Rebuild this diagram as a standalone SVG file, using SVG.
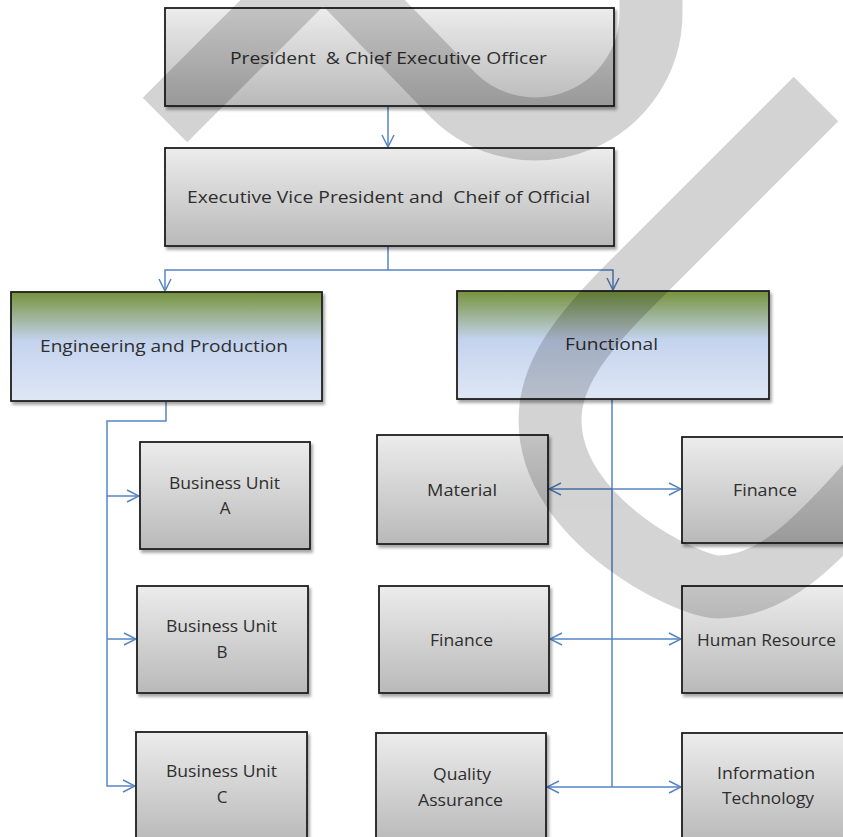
<svg xmlns="http://www.w3.org/2000/svg" width="843" height="837" viewBox="0 0 843 837">
  <defs>
    <linearGradient id="grey" x1="0" y1="0" x2="0" y2="1">
      <stop offset="0" stop-color="#ececec"/>
      <stop offset="1" stop-color="#b9b9b9"/>
    </linearGradient>
    <linearGradient id="greenblue" x1="0" y1="0" x2="0" y2="1">
      <stop offset="0" stop-color="#76933c"/>
      <stop offset="0.45" stop-color="#c4d3ee"/>
      <stop offset="1" stop-color="#dee7f5"/>
    </linearGradient>
    <filter id="shadow" x="-10%" y="-10%" width="125%" height="130%">
      <feDropShadow dx="2" dy="3" stdDeviation="1.8" flood-color="#000" flood-opacity="0.35"/>
    </filter>
    <marker id="arrow" viewBox="0 0 14 14" refX="13" refY="7" markerWidth="14" markerHeight="14" markerUnits="userSpaceOnUse" orient="auto-start-reverse">
      <path d="M1,1 L13,7 L1,13" fill="none" stroke="#5585c5" stroke-width="1.5"/>
    </marker>
  </defs>
  <style>
    .box { fill: url(#grey); stroke: #1e1e1e; stroke-width: 1.8; filter: url(#shadow); }
    .head { fill: url(#greenblue); stroke: #1e1e1e; stroke-width: 1.8; filter: url(#shadow); }
    .lbl { font-family: "Open Sans", "Liberation Sans", sans-serif; font-size: 17px; fill: #2e2e2e; text-anchor: middle; }
    .pre { white-space: pre; }
    .conn { fill: none; stroke: #5585c5; stroke-width: 1.5; }
    .arr { marker-end: url(#arrow); }
    .both { marker-start: url(#arrow); marker-end: url(#arrow); }
  </style>

  <rect width="843" height="837" fill="#ffffff"/>

  <!-- connectors -->
  <g id="connectors">
    <path class="conn arr" d="M388,107 L388,147"/>
    <path class="conn arr" d="M388,247 L388,270 L165,270 L165,291"/>
    <path class="conn arr" d="M388,270 L613,270 L613,290"/>
    <path class="conn arr" d="M166,402 L166,421 L107,421 L107,786 L135,786"/>
    <path class="conn arr" d="M107,496 L139,496"/>
    <path class="conn arr" d="M107,639 L136,639"/>
    <path class="conn" d="M612,400 L612,787"/>
    <path class="conn both" d="M549,489 L681,489"/>
    <path class="conn both" d="M550,639 L681,639"/>
    <path class="conn both" d="M547,787 L681,787"/>
  </g>

  <!-- nodes -->
  <g id="ceo">
    <rect class="box" x="165" y="8" width="449" height="98"/>
    <text class="lbl pre" x="388.5" y="64" textLength="317" lengthAdjust="spacingAndGlyphs">President  &amp; Chief Executive Officer</text>
  </g>
  <g id="evp">
    <rect class="box" x="165" y="148" width="449" height="98"/>
    <text class="lbl pre" x="388.5" y="203" textLength="403" lengthAdjust="spacingAndGlyphs">Executive Vice President and  Cheif of Official</text>
  </g>
  <g id="engineering">
    <rect class="head" x="11" y="292" width="311" height="109"/>
    <text class="lbl" x="164" y="352" textLength="248" lengthAdjust="spacingAndGlyphs">Engineering and Production</text>
  </g>
  <g id="functional">
    <rect class="head" x="457" y="291" width="312" height="108"/>
    <text class="lbl" x="611.5" y="350" textLength="93" lengthAdjust="spacingAndGlyphs">Functional</text>
  </g>
  <g id="bu-a">
    <rect class="box" x="140" y="442" width="170" height="107"/>
    <text class="lbl" x="224.5" y="489" textLength="111" lengthAdjust="spacingAndGlyphs">Business Unit</text>
    <text class="lbl" x="225" y="514">A</text>
  </g>
  <g id="bu-b">
    <rect class="box" x="137" y="586" width="171" height="107"/>
    <text class="lbl" x="221.5" y="632" textLength="111" lengthAdjust="spacingAndGlyphs">Business Unit</text>
    <text class="lbl" x="222" y="658">B</text>
  </g>
  <g id="bu-c">
    <rect class="box" x="136" y="732" width="171" height="110"/>
    <text class="lbl" x="221.5" y="777" textLength="111" lengthAdjust="spacingAndGlyphs">Business Unit</text>
    <text class="lbl" x="222" y="803">C</text>
  </g>
  <g id="material">
    <rect class="box" x="377" y="435" width="171" height="109"/>
    <text class="lbl" x="462" y="496" textLength="70" lengthAdjust="spacingAndGlyphs">Material</text>
  </g>
  <g id="finance-right">
    <rect class="box" x="682" y="437" width="175" height="106"/>
    <text class="lbl" x="765" y="496" textLength="64" lengthAdjust="spacingAndGlyphs">Finance</text>
  </g>
  <g id="finance-left">
    <rect class="box" x="379" y="586" width="170" height="107"/>
    <text class="lbl" x="461.5" y="646" textLength="63" lengthAdjust="spacingAndGlyphs">Finance</text>
  </g>
  <g id="human-resource">
    <rect class="box" x="682" y="586" width="175" height="107"/>
    <text class="lbl" x="766.5" y="646" textLength="139" lengthAdjust="spacingAndGlyphs">Human Resource</text>
  </g>
  <g id="quality-assurance">
    <rect class="box" x="376" y="733" width="170" height="110"/>
    <text class="lbl" x="462" y="780" textLength="58" lengthAdjust="spacingAndGlyphs">Quality</text>
    <text class="lbl" x="460.5" y="806" textLength="85" lengthAdjust="spacingAndGlyphs">Assurance</text>
  </g>
  <g id="information-technology">
    <rect class="box" x="682" y="733" width="175" height="110"/>
    <text class="lbl" x="766" y="779" textLength="98" lengthAdjust="spacingAndGlyphs">Information</text>
    <text class="lbl" x="768" y="804" textLength="92" lengthAdjust="spacingAndGlyphs">Technology</text>
  </g>

  <!-- translucent grey strokes laid over the chart -->
  <g id="overlay" opacity="0.17" fill="none" stroke="#000" stroke-width="63">
    <path d="M165,120 L320,-35"/>
    <path d="M330,-32 L453,95 A116,116 0 0 0 651,13 L651,-40"/>
    <path d="M816,99 L630,285 C 580,335 550,375 550,420 C 550,520 688,587 718,587 C 772,587 815,545 880,470"/>
  </g>
</svg>
